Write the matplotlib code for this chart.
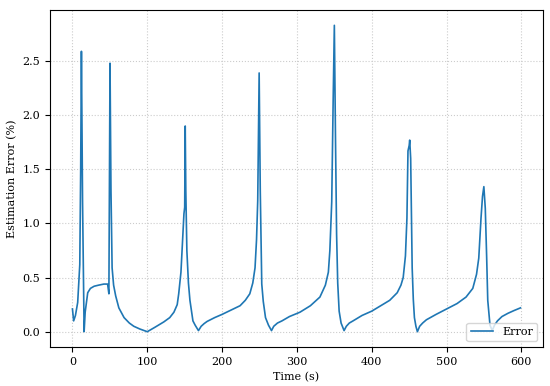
import matplotlib
matplotlib.use("Agg")
from matplotlib import pyplot as plt

plt.rcParams['font.family'] = 'DejaVu Serif'
plt.rcParams['font.size'] = 8

# values
time_s = [0, 1.6, 4, 7, 9.8, 11, 12, 13.5, 15.6, 17, 20.4, 24, 29, 35, 42, 47, 48.7,
          49.5, 50.2, 51.5, 53, 55, 57.8, 62, 69, 76, 82, 90, 100,
          110, 122, 130, 135.6, 140, 142, 145, 147.6, 149, 150, 150.7, 151.5, 152.9, 155, 157, 161, 164, 168.4,
          172, 176, 180, 190, 200, 212, 224, 231, 237, 241, 244, 246, 247.6, 249.5, 251, 253, 255, 258, 262, 266,
          269, 274, 280, 290, 304, 318, 330.7, 338, 342, 344, 346.5, 348.4, 350, 351.5, 353, 354.5, 356.4, 359, 363,
          366, 370, 375, 387, 400, 412, 424, 434, 439, 442, 445, 447, 448.4, 450, 450.7, 452, 453, 454, 455.5, 457, 459, 461,
          464, 468, 473, 486, 500, 514, 526, 535, 540, 543, 546, 548, 549.8, 551.7, 553.5, 555, 558, 561,
          564, 568, 574, 582, 590, 598.7]
error_pct = [0.21, 0.10, 0.15, 0.27, 0.62, 1.5, 2.59, 1.2, 0.0, 0.18, 0.36, 0.40, 0.42, 0.43, 0.44, 0.44, 0.35,
             1.4, 2.48, 1.3, 0.59, 0.43, 0.33, 0.22, 0.13, 0.08, 0.05, 0.025, 0.0,
             0.04, 0.09, 0.13, 0.18, 0.25, 0.35, 0.55, 0.9, 1.09, 1.15, 1.90, 1.3, 0.75, 0.45, 0.29, 0.10, 0.06, 0.01,
             0.05, 0.075, 0.095, 0.13, 0.16, 0.20, 0.24, 0.29, 0.35, 0.45, 0.59, 0.85, 1.21, 2.39, 1.3, 0.44, 0.28, 0.13, 0.06, 0.01,
             0.05, 0.08, 0.10, 0.14, 0.18, 0.24, 0.32, 0.43, 0.55, 0.75, 1.2, 2.13, 2.83, 1.8, 0.90, 0.45, 0.19, 0.08, 0.01,
             0.05, 0.08, 0.10, 0.15, 0.19, 0.24, 0.29, 0.36, 0.43, 0.5, 0.7, 1.05, 1.67, 1.72, 1.77, 1.6, 1.1, 0.59, 0.3, 0.13, 0.05, 0.0,
             0.05, 0.08, 0.11, 0.16, 0.21, 0.26, 0.32, 0.40, 0.53, 0.68, 1.05, 1.25, 1.34, 1.14, 0.7, 0.29, 0.06, 0.01,
             0.06, 0.10, 0.14, 0.17, 0.195, 0.22]

fig = plt.figure(figsize=(5.5, 3.86), dpi=100)
ax = fig.add_axes([0.091, 0.101, 0.896, 0.873])
ax.plot(time_s, error_pct, color='#1f77b4', lw=1.2, label='Error')
ax.grid(True, linestyle=':', color='#cccccc', linewidth=0.8)
ax.set_xlabel('Time (s)')
ax.set_ylabel('Estimation Error (%)')
ax.legend(loc='lower right')
fig.savefig('out.png', dpi=100)
